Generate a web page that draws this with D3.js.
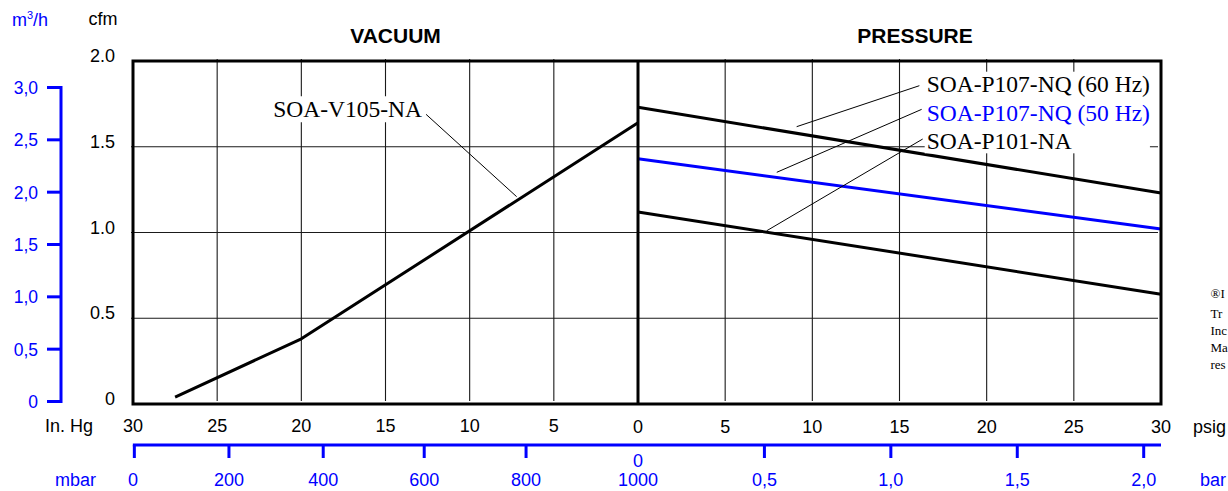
<!DOCTYPE html>
<html>
<head>
<meta charset="utf-8">
<script src="https://cdn.jsdelivr.net/npm/d3@7"></script>
<style>
  html, body { margin: 0; padding: 0; background: #fff; overflow: hidden; }
  svg { display: block; }
</style>
</head>
<body>
<svg id="chart" width="1228" height="491"></svg>
<script>
// ---------- DATA ----------
const vacTicks = [30, 25, 20, 15, 10, 5];
const presTicks = [0, 5, 10, 15, 20, 25, 30];
const vacGrid = [25, 20, 15, 10, 5];
const presGrid = [5, 10, 15, 20, 25];
const cfmTicks = [0, 0.5, 1.0, 1.5, 2.0];
const cfmLabels = ["0", "0.5", "1.0", "1.5", "2.0"];
const cfmGrid = [0.5, 1.0, 1.5];
const m3hTicks = [0, 0.5, 1.0, 1.5, 2.0, 2.5, 3.0];
const m3hLabels = ["0", "0,5", "1,0", "1,5", "2,0", "2,5", "3,0"];
const mbarTicks = [0, 200, 400, 600, 800, 1000];
const mbarLabels = ["0", "200", "400", "600", "800", "1000"];
const mbarAtInHg = [29.92, 24.3, 18.7, 12.7, 6.65, 0];   // position of each mbar mark on the In. Hg scale
const mbarHasTick = [true, true, true, true, true, false];
const barTicks = [0, 0.5, 1.0, 1.5, 2.0];
const barLabels = ["0", "0,5", "1,0", "1,5", "2,0"];
const barHasTick = [false, true, true, true, true];
const PSI_PER_BAR = 14.5038;

// Vacuum curve SOA-V105-NA (In. Hg -> cfm)
const v105InHg = [27.5, 20, 0];
const v105Cfm  = [0.04, 0.38, 1.64];

// Pressure curves (psig -> cfm)
const presPsig   = [0, 30];
const p107_60Hz  = [1.73, 1.23];
const p107_50Hz  = [1.43, 1.02];
const p101       = [1.12, 0.64];

// Labels & leader lines (data units)
const vacLabel = { text: "SOA-V105-NA", x: 21.67, y: 1.672, lx1: 12.59, ly1: 1.689, lx2: 7.21, ly2: 1.209 };
const presLabels = ["SOA-P107-NQ (60 Hz)", "SOA-P107-NQ (50 Hz)", "SOA-P101-NA"];
const presLabelColors = ["#000", "#0000ff", "#000"];
const presLabelX = 16.56;
const presLabelY = [1.821, 1.652, 1.485];
const presLeaderX1 = [16.14, 16.27, 16.33];
const presLeaderY1 = [1.856, 1.718, 1.545];
const presLeaderX2 = [9.10, 7.96, 7.38];
const presLeaderY2 = [1.617, 1.351, 1.010];

// trademark note, only the part visible at the right edge
const noteLines = ["®I", "Tr", "Inc", "Ma", "res"];

// ---------- SCALES ----------
const svg = d3.select("#chart");
const L = 133, MID = 638, R = 1161, T = 61, B = 404;
const xVac = d3.scaleLinear().domain([30, 0]).range([L, MID]);
const xPr  = d3.scaleLinear().domain([0, 30]).range([MID, R]);
const y    = d3.scaleLinear().domain([0, 2]).range([B, T]);
const yM3  = d3.scaleLinear().domain([0, 3]).range([401.5, 87.5]);

const SANS = "'Liberation Sans', Arial, Helvetica, sans-serif";
const SERIF = "'Liberation Serif', 'Times New Roman', Times, serif";
const BLUE = "#0000ff";

svg.append("rect").attr("width", 1228).attr("height", 491).attr("fill", "#fff");

// ---------- GRID ----------
const grid = svg.append("g").attr("stroke", "#1a1a1a").attr("stroke-width", 1.1);
grid.selectAll(".vg").data(vacGrid).join("line")
  .attr("x1", d => xVac(d)).attr("x2", d => xVac(d)).attr("y1", T - 2).attr("y2", B - 3);
grid.selectAll(".pg").data(presGrid).join("line")
  .attr("x1", d => xPr(d)).attr("x2", d => xPr(d)).attr("y1", T - 2).attr("y2", B - 3);
grid.selectAll(".hg").data(cfmGrid).join("line")
  .attr("x1", L - 2).attr("x2", R - 3).attr("y1", d => y(d)).attr("y2", d => y(d));

// ---------- LABEL TEXTS (with white backgrounds) ----------
const annot = svg.append("g");
const bgLayer = annot.append("g");
const vt = annot.append("text")
  .attr("x", xVac(vacLabel.x)).attr("y", y(vacLabel.y))
  .attr("font-family", SERIF).attr("font-size", 23.5).attr("fill", "#000")
  .text(vacLabel.text);
{
  const bb = vt.node().getBBox();
  bgLayer.append("rect").attr("x", bb.x - 2).attr("y", bb.y).attr("width", bb.width + 4).attr("height", bb.height).attr("fill", "#fff");
}
const pts = annot.selectAll(".pl").data(presLabels).join("text")
  .attr("x", xPr(presLabelX)).attr("y", (d, i) => y(presLabelY[i]))
  .attr("font-family", SERIF).attr("font-size", 23.5)
  .attr("fill", (d, i) => presLabelColors[i])
  .text(d => d);
{
  let x0 = 1e9, y0 = 1e9, x1 = -1e9, y1 = -1e9;
  pts.each(function () {
    const b = this.getBBox();
    x0 = Math.min(x0, b.x); y0 = Math.min(y0, b.y);
    x1 = Math.max(x1, b.x + b.width); y1 = Math.max(y1, b.y + b.height);
  });
  bgLayer.append("rect").attr("x", x0 - 2).attr("y", y0 + 1).attr("width", x1 - x0 + 2).attr("height", y1 - y0 - 2).attr("fill", "#fff");
}

// ---------- CURVES ----------
const lineVac = d3.line().x(d => xVac(d[0])).y(d => y(d[1]));
const linePr  = d3.line().x(d => xPr(d[0])).y(d => y(d[1]));
const curves = svg.append("g").attr("fill", "none").attr("stroke-width", 3).attr("stroke-linejoin", "round");
curves.append("path").attr("stroke", "#000").attr("d", lineVac(d3.zip(v105InHg, v105Cfm)));
curves.append("path").attr("stroke", "#000").attr("d", linePr(d3.zip(presPsig, p107_60Hz)));
curves.append("path").attr("stroke", BLUE).attr("d", linePr(d3.zip(presPsig, p107_50Hz)));
curves.append("path").attr("stroke", "#000").attr("d", linePr(d3.zip(presPsig, p101)));

// ---------- LEADER LINES ----------
const leaders = svg.append("g").attr("stroke", "#000").attr("stroke-width", 1);
leaders.append("line")
  .attr("x1", xVac(vacLabel.lx1)).attr("y1", y(vacLabel.ly1))
  .attr("x2", xVac(vacLabel.lx2)).attr("y2", y(vacLabel.ly2));
leaders.selectAll(".pld").data(presLabels).join("line")
  .attr("x1", (d, i) => xPr(presLeaderX1[i])).attr("y1", (d, i) => y(presLeaderY1[i]))
  .attr("x2", (d, i) => xPr(presLeaderX2[i])).attr("y2", (d, i) => y(presLeaderY2[i]));
annot.raise();

// ---------- FRAME ----------
svg.append("rect").attr("x", L).attr("y", T).attr("width", R - L).attr("height", B - T)
  .attr("fill", "none").attr("stroke", "#000").attr("stroke-width", 3);
svg.append("line").attr("x1", MID).attr("x2", MID).attr("y1", T).attr("y2", B)
  .attr("stroke", "#000").attr("stroke-width", 3);

// ---------- TITLES ----------
svg.append("text").attr("x", (L + MID) / 2 + 10).attr("y", 42.5).attr("text-anchor", "middle")
  .attr("font-family", SANS).attr("font-weight", "bold").attr("font-size", 21).text("VACUUM");
svg.append("text").attr("x", 915).attr("y", 42.5).attr("text-anchor", "middle")
  .attr("font-family", SANS).attr("font-weight", "bold").attr("font-size", 21).text("PRESSURE");

// ---------- LEFT AXES ----------
svg.append("text").attr("x", 103).attr("y", 25).attr("text-anchor", "middle")
  .attr("font-family", SANS).attr("font-size", 18).text("cfm");
svg.selectAll(".cfml").data(cfmTicks).join("text")
  .attr("x", 115).attr("y", d => y(d) + 1).attr("text-anchor", "end")
  .attr("font-family", SANS).attr("font-size", 18).attr("fill", "#000")
  .text((d, i) => cfmLabels[i]);

const m3 = svg.append("text").attr("x", 30).attr("y", 26).attr("text-anchor", "middle")
  .attr("font-family", SANS).attr("font-size", 18).attr("fill", BLUE);
m3.append("tspan").text("m");
m3.append("tspan").attr("font-size", 11).attr("dy", -7).text("3");
m3.append("tspan").attr("dy", 7).text("/h");

const m3Axis = svg.append("g").attr("stroke", BLUE).attr("stroke-width", 3);
m3Axis.append("line").attr("x1", 61).attr("x2", 61).attr("y1", yM3(3) - 1.5).attr("y2", yM3(0) + 1.5);
m3Axis.selectAll(".mt").data(m3hTicks).join("line")
  .attr("x1", 47).attr("x2", 61).attr("y1", d => yM3(d)).attr("y2", d => yM3(d));
svg.selectAll(".m3l").data(m3hTicks).join("text")
  .attr("x", 38).attr("y", d => yM3(d) + 6.5).attr("text-anchor", "end")
  .attr("font-family", SANS).attr("font-size", 17.5).attr("fill", BLUE)
  .text((d, i) => m3hLabels[i]);

// ---------- BOTTOM AXES ----------
svg.append("text").attr("x", 93).attr("y", 432).attr("text-anchor", "end")
  .attr("font-family", SANS).attr("font-size", 18).text("In. Hg");
svg.selectAll(".vtl").data(vacTicks).join("text")
  .attr("x", d => xVac(d)).attr("y", 432).attr("text-anchor", "middle")
  .attr("font-family", SANS).attr("font-size", 18).text(d => d);
svg.selectAll(".ptl").data(presTicks).join("text")
  .attr("x", d => xPr(d)).attr("y", 433).attr("text-anchor", "middle")
  .attr("font-family", SANS).attr("font-size", 18).text(d => d);
svg.append("text").attr("x", 1193).attr("y", 433)
  .attr("font-family", SANS).attr("font-size", 18).text("psig");

const blueAxis = svg.append("g").attr("stroke", BLUE).attr("stroke-width", 3);
blueAxis.append("line").attr("x1", xVac(mbarAtInHg[0]) - 1.5).attr("x2", R).attr("y1", 445).attr("y2", 445);
blueAxis.selectAll(".mbt").data(mbarTicks.filter((d, i) => mbarHasTick[i])).join("line")
  .attr("x1", d => xVac(mbarAtInHg[mbarTicks.indexOf(d)])).attr("x2", d => xVac(mbarAtInHg[mbarTicks.indexOf(d)]))
  .attr("y1", 445).attr("y2", 458);
blueAxis.selectAll(".bt").data(barTicks.filter((d, i) => barHasTick[i])).join("line")
  .attr("x1", d => xPr(d * PSI_PER_BAR)).attr("x2", d => xPr(d * PSI_PER_BAR))
  .attr("y1", 445).attr("y2", 458);

const BOT = 486;
svg.append("text").attr("x", 96).attr("y", BOT).attr("text-anchor", "end")
  .attr("font-family", SANS).attr("font-size", 18).attr("fill", BLUE).text("mbar");
svg.selectAll(".mbl").data(mbarTicks).join("text")
  .attr("x", (d, i) => i === 0 ? xVac(30) : xVac(mbarAtInHg[i])).attr("y", BOT).attr("text-anchor", "middle")
  .attr("font-family", SANS).attr("font-size", 18).attr("fill", BLUE)
  .text((d, i) => mbarLabels[i]);
svg.selectAll(".bl").data(barTicks).join("text")
  .attr("x", d => xPr(d * PSI_PER_BAR)).attr("y", (d, i) => barHasTick[i] ? BOT : 467).attr("text-anchor", "middle")
  .attr("font-family", SANS).attr("font-size", 18).attr("fill", BLUE)
  .text((d, i) => barLabels[i]);
svg.append("text").attr("x", 1200).attr("y", BOT)
  .attr("font-family", SANS).attr("font-size", 18).attr("fill", BLUE).text("bar");

// ---------- NOTE (visible fragment at right edge) ----------
const noteY = [298, 318, 335, 352, 369];
svg.selectAll(".note").data(noteLines).join("text")
  .attr("x", 1210.5).attr("y", (d, i) => noteY[i])
  .attr("font-family", SERIF).attr("font-size", 13).attr("fill", "#000")
  .text(d => d);
</script>
</body>
</html>
